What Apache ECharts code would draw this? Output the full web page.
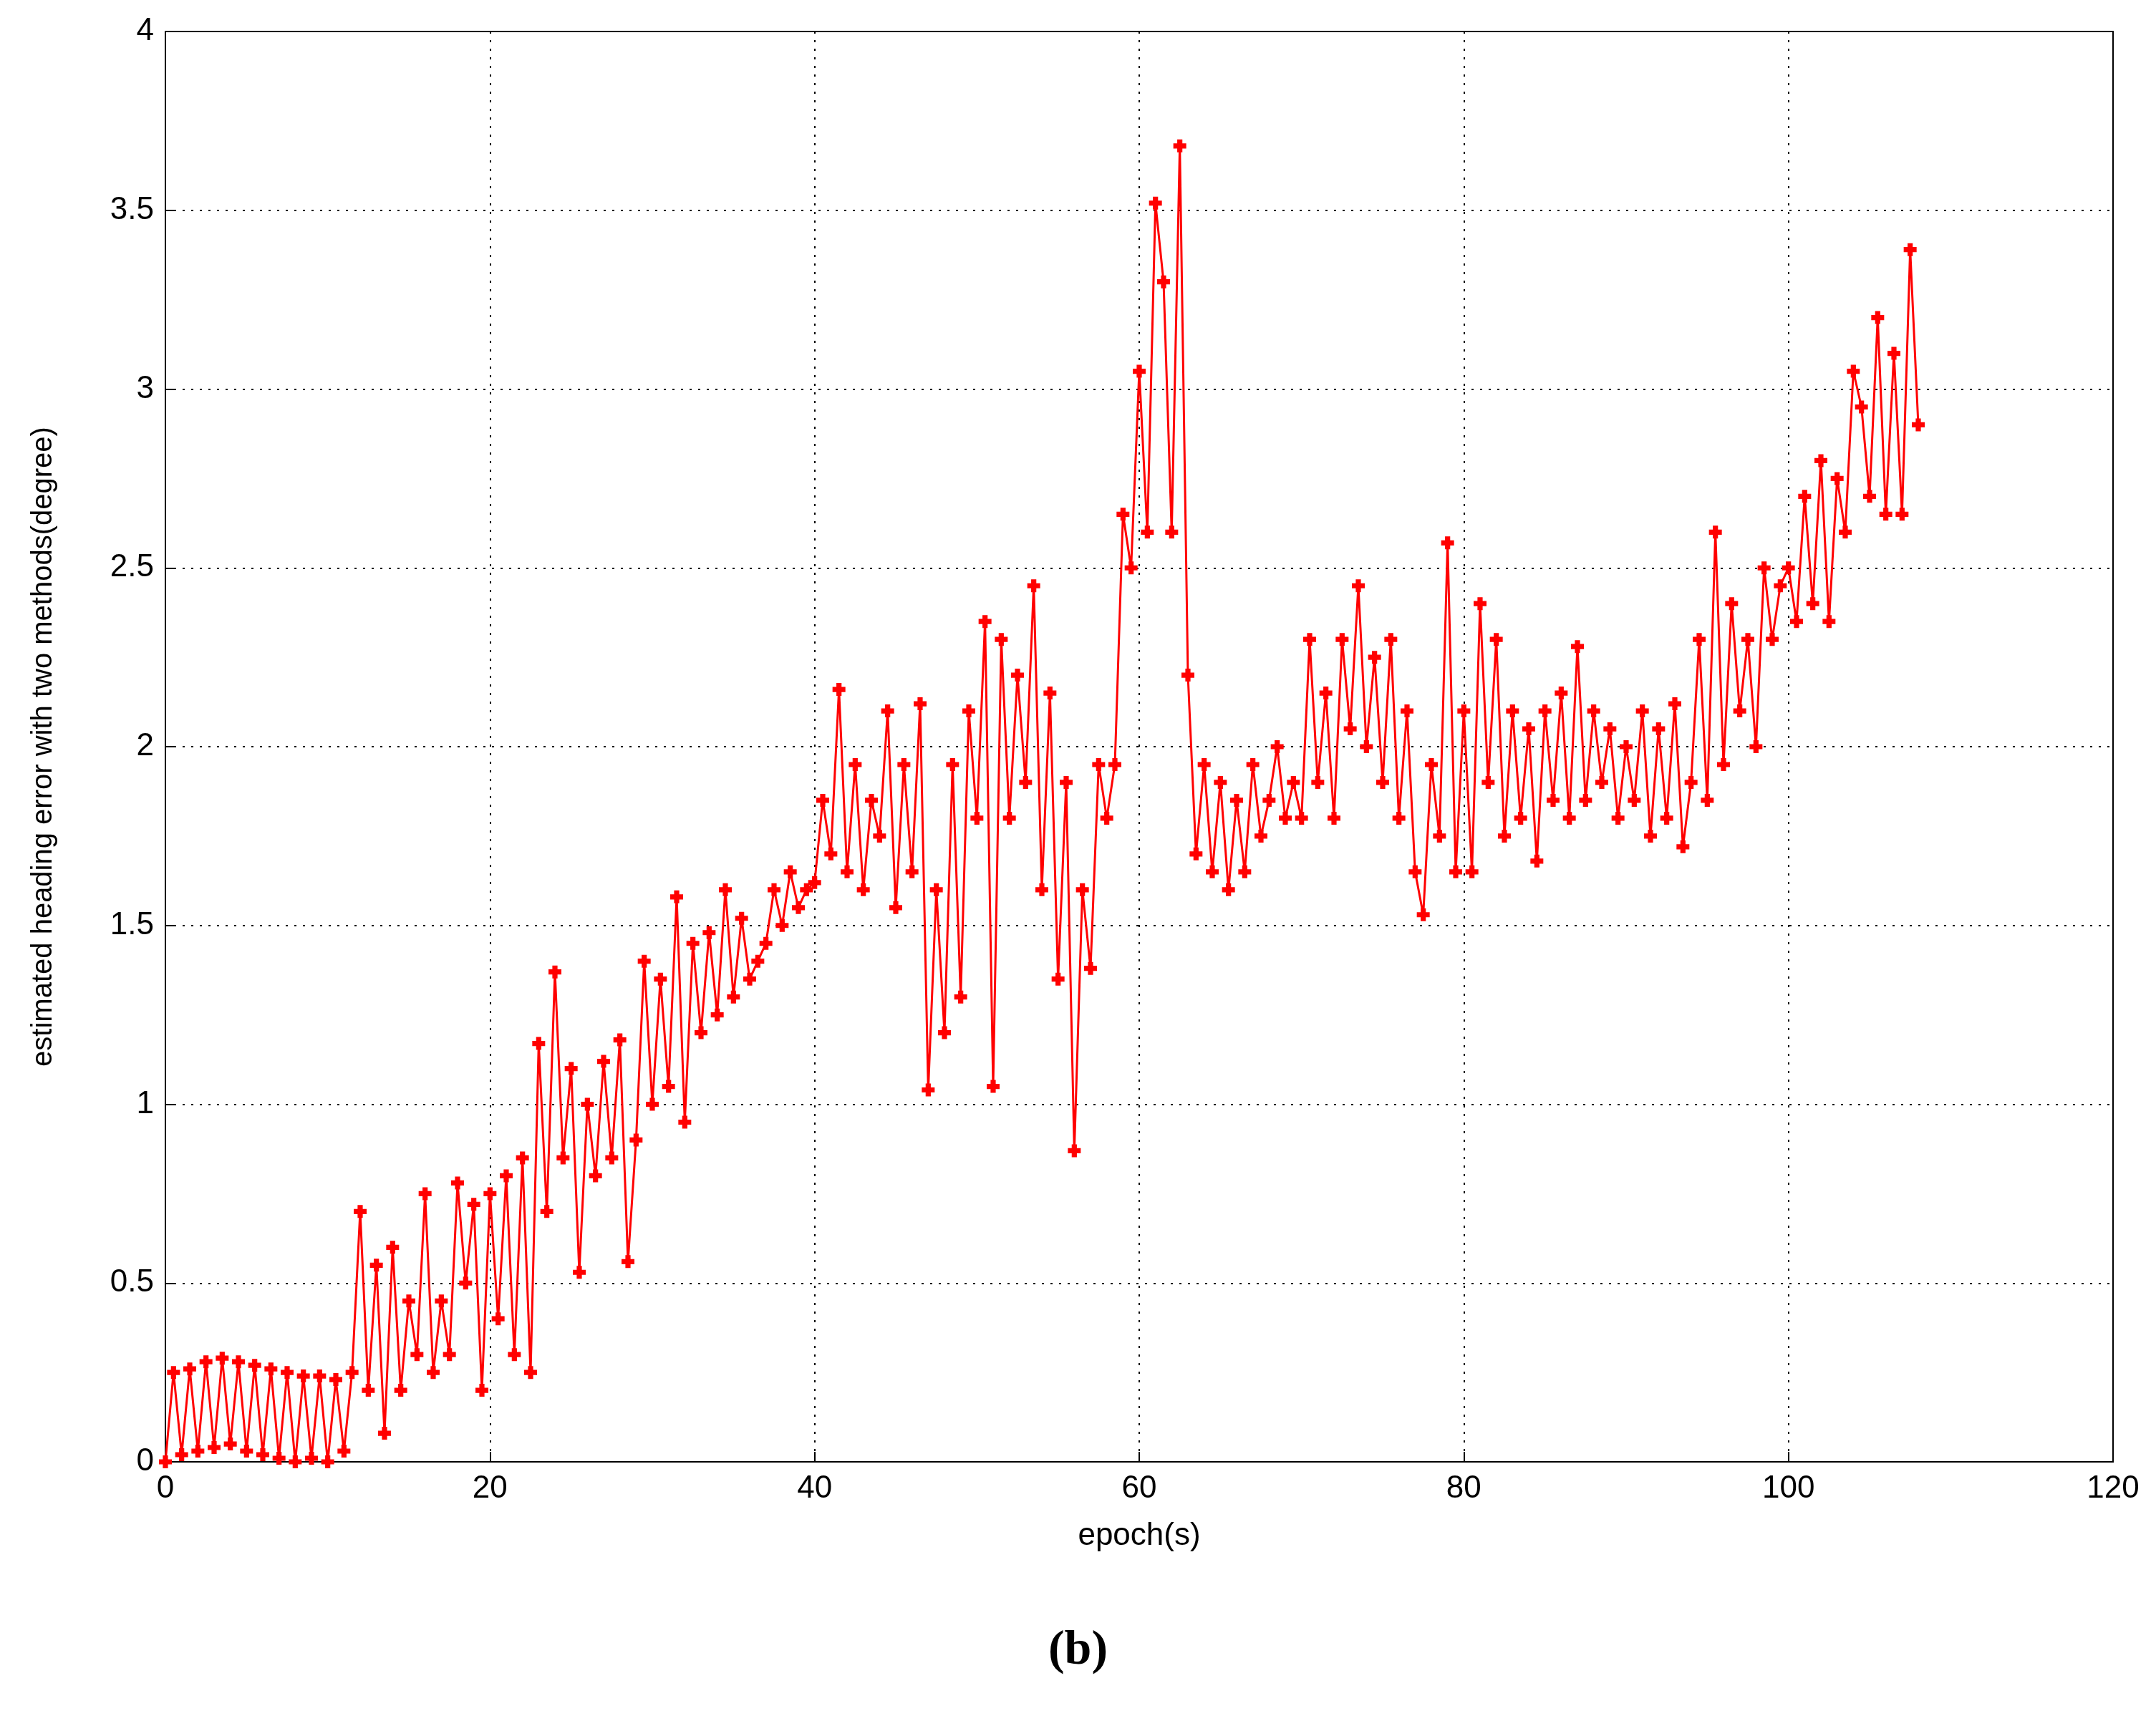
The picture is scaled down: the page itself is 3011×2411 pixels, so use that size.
<!DOCTYPE html>
<html>
<head>
<meta charset="utf-8">
<script src="https://cdn.jsdelivr.net/npm/echarts@6/dist/echarts.min.js"></script>
<style>html,body{margin:0;padding:0;background:#fff}#main{width:3011px;height:2411px}</style>
</head>
<body>
<div id="main"></div>
<script>
// heading error, sampled every 0.5 s (one row per 10 s)
var step = 0.5;
var err0 = [0,0.25,0.02,0.26,0.03,0.28,0.04,0.29,0.05,0.28,0.03,0.27,0.02,0.26,0.01,0.25,0.0,0.24,0.01,0.24];
var err10 = [0.0,0.23,0.03,0.25,0.7,0.2,0.55,0.08,0.6,0.2,0.45,0.3,0.75,0.25,0.45,0.3,0.78,0.5,0.72,0.2];
var err20 = [0.75,0.4,0.8,0.3,0.85,0.25,1.17,0.7,1.37,0.85,1.1,0.53,1.0,0.8,1.12,0.85,1.18,0.56,0.9,1.4];
var err30 = [1.0,1.35,1.05,1.58,0.95,1.45,1.2,1.48,1.25,1.6,1.3,1.52,1.35,1.4,1.45,1.6,1.5,1.65,1.55,1.6];
var err40 = [1.62,1.85,1.7,2.16,1.65,1.95,1.6,1.85,1.75,2.1,1.55,1.95,1.65,2.12,1.04,1.6,1.2,1.95,1.3,2.1];
var err50 = [1.8,2.35,1.05,2.3,1.8,2.2,1.9,2.45,1.6,2.15,1.35,1.9,0.87,1.6,1.38,1.95,1.8,1.95,2.65,2.5];
var err60 = [3.05,2.6,3.52,3.3,2.6,3.68,2.2,1.7,1.95,1.65,1.9,1.6,1.85,1.65,1.95,1.75,1.85,2.0,1.8,1.9];
var err70 = [1.8,2.3,1.9,2.15,1.8,2.3,2.05,2.45,2.0,2.25,1.9,2.3,1.8,2.1,1.65,1.53,1.95,1.75,2.57,1.65];
var err80 = [2.1,1.65,2.4,1.9,2.3,1.75,2.1,1.8,2.05,1.68,2.1,1.85,2.15,1.8,2.28,1.85,2.1,1.9,2.05,1.8];
var err90 = [2.0,1.85,2.1,1.75,2.05,1.8,2.12,1.72,1.9,2.3,1.85,2.6,1.95,2.4,2.1,2.3,2.0,2.5,2.3,2.45];
var err100 = [2.5,2.35,2.7,2.4,2.8,2.35,2.75,2.6,3.05,2.95,2.7,3.2,2.65,3.1,2.65,3.39,2.9];

var errAll = [].concat(err0, err10, err20, err30, err40, err50, err60, err70, err80, err90, err100);
var points = errAll.map(function (v, i) { return [i * step, v]; });

var myChart = echarts.init(document.getElementById('main'));
var fontFam = 'Arial, "Liberation Sans", sans-serif';
var plus = 'path://M3,0L7,0L7,3L10,3L10,7L7,7L7,10L3,10L3,7L0,7L0,3L3,3Z';
var option = {
  backgroundColor: '#fff',
  animation: false,
  grid: { left: 231, right: 60, top: 44, bottom: 369, show: true, borderColor: '#000', borderWidth: 2 },
  xAxis: {
    type: 'value', min: 0, max: 120, interval: 20,
    name: 'epoch(s)', nameLocation: 'middle', nameGap: 82,
    nameTextStyle: { fontSize: 44, color: '#000', fontFamily: fontFam },
    axisLine: { lineStyle: { color: '#000', width: 2 } },
    axisTick: { inside: true, length: 14, lineStyle: { color: '#000', width: 2 } },
    axisLabel: { fontSize: 44, color: '#000', margin: 16, fontFamily: fontFam },
    splitLine: { lineStyle: { color: '#000', type: [3, 9], width: 2 } }
  },
  yAxis: {
    type: 'value', min: 0, max: 4, interval: 0.5,
    name: 'estimated heading error with two methods(degree)', nameLocation: 'middle', nameGap: 150,
    nameTextStyle: { fontSize: 40, color: '#000', fontFamily: fontFam },
    axisLine: { lineStyle: { color: '#000', width: 2 } },
    axisTick: { inside: true, length: 14, lineStyle: { color: '#000', width: 2 } },
    axisLabel: { fontSize: 44, color: '#000', margin: 16, fontFamily: fontFam },
    splitLine: { lineStyle: { color: '#000', type: [3, 9], width: 2 } }
  },
  graphic: [{
    type: 'text', left: 'center', top: 2272,
    style: { text: '(b)', font: 'bold 68px "Liberation Serif", "Times New Roman", serif', fill: '#000' }
  }],
  series: [{
    type: 'line',
    data: points,
    symbol: plus,
    symbolSize: 18,
    showAllSymbol: true,
    lineStyle: { color: '#ff0000', width: 3 },
    itemStyle: { color: '#ff0000' }
  }]
};
myChart.setOption(option);
</script>
</body>
</html>
